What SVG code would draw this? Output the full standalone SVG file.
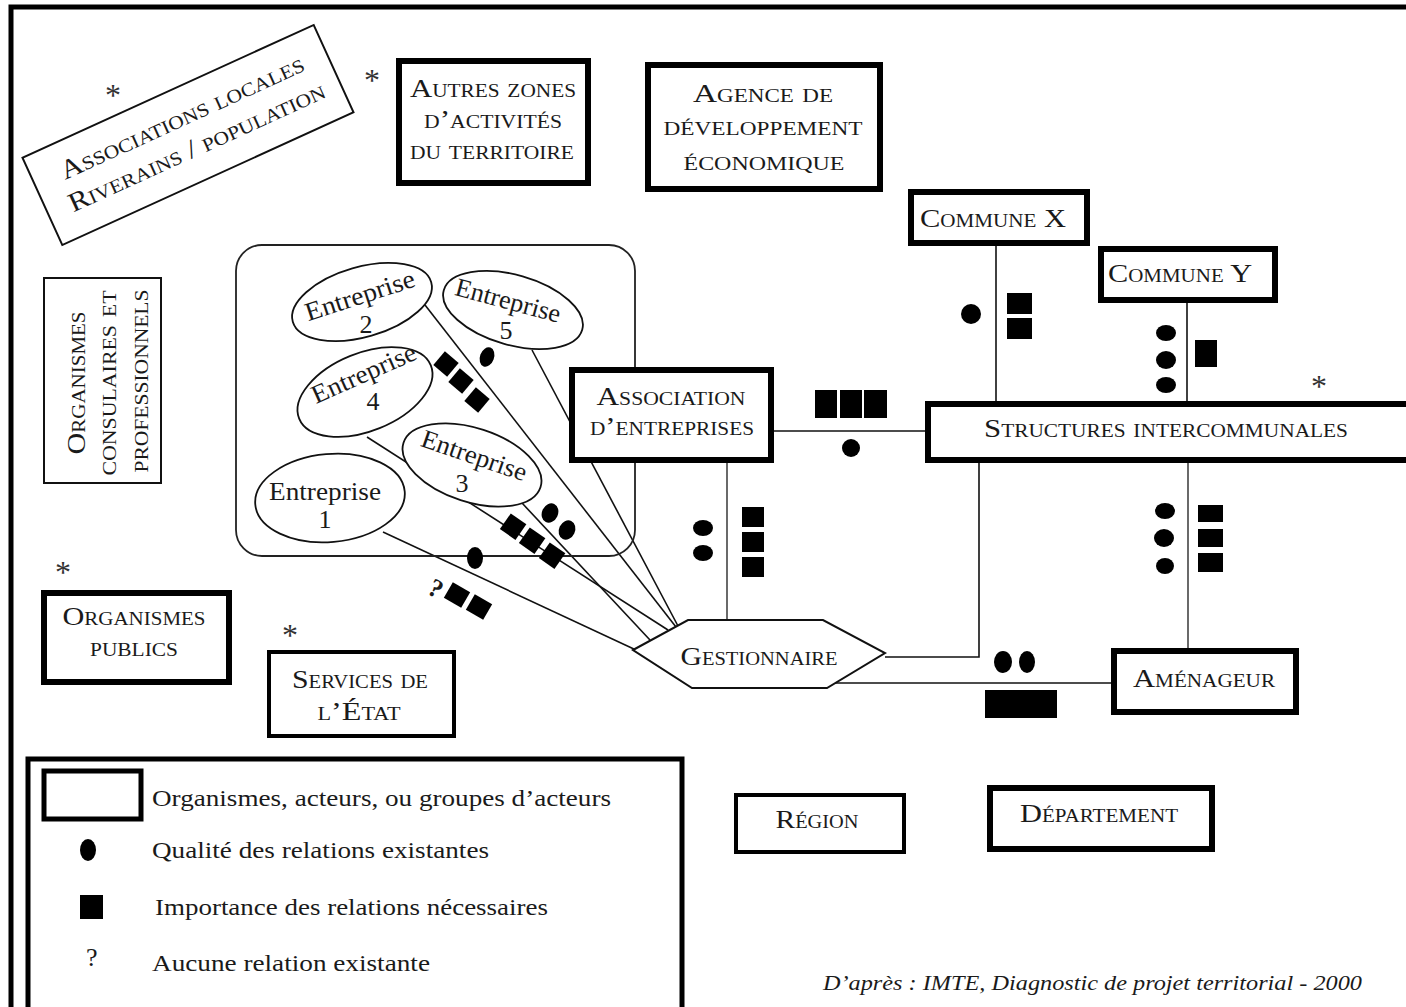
<svg xmlns="http://www.w3.org/2000/svg" width="1406" height="1007" viewBox="0 0 1406 1007">
<style>
.lbl{font-family:"Liberation Serif",serif;font-variant:small-caps;font-size:26px;fill:#1a1a1a;text-anchor:middle}
.ent{font-family:"Liberation Serif",serif;font-size:26px;fill:#1a1a1a;text-anchor:middle}
.leg{font-family:"Liberation Serif",serif;font-size:24px;fill:#1a1a1a}
.ast{font-family:"Liberation Serif",serif;font-size:32px;fill:#333;text-anchor:middle}
.thick{fill:#fff;stroke:#000;stroke-width:6}
.med{fill:#fff;stroke:#000;stroke-width:4}
.ell{fill:#fff;stroke:#111;stroke-width:1.8}
.ln{fill:none;stroke:#111;stroke-width:1.6}
.lg{fill:none;stroke:#444;stroke-width:1.6}
.sq{fill:#000}
.dot{fill:#000}
</style>
<rect x="0" y="0" width="1406" height="1007" fill="#fff"/>
<rect x="11" y="7" width="1430" height="1030" fill="none" stroke="#000" stroke-width="5"/>

<!-- connectors -->
<g id="connectors">
<line class="ln" x1="425" y1="305" x2="676" y2="627"/>
<line class="ln" x1="532" y1="350" x2="678" y2="626"/>
<line class="ln" x1="367" y1="437" x2="668" y2="630"/>
<line class="ln" x1="522" y1="503" x2="650" y2="640"/>
<line class="ln" x1="383" y1="532" x2="636" y2="650"/>
<line class="ln" x1="773" y1="431" x2="926" y2="431"/>
<line class="lg" x1="727" y1="462" x2="727" y2="620"/>
<line class="ln" x1="996" y1="245" x2="996" y2="402"/>
<line class="ln" x1="1187" y1="302" x2="1187" y2="402"/>
<line class="lg" x1="1188" y1="462" x2="1188" y2="650"/>
<polyline class="ln" points="979,462 979,657 885,657"/>
<line class="ln" x1="835" y1="683" x2="1113" y2="683"/>
</g>

<!-- entreprises container -->
<g id="zone-entreprises">
<rect x="236" y="245" width="399" height="311" rx="26" fill="none" stroke="#222" stroke-width="1.8"/>
</g>
<g id="ent2"><ellipse class="ell" cx="362" cy="302" rx="72" ry="35" transform="rotate(-16 362 302)"/>
<text class="ent" transform="translate(360,296) rotate(-18)" x="0" y="8" textLength="114" lengthAdjust="spacingAndGlyphs">Entreprise</text>
<text class="ent" x="366" y="333">2</text></g>
<g id="ent5"><ellipse class="ell" cx="513" cy="310" rx="72" ry="35" transform="rotate(16 513 310)"/>
<text class="ent" transform="translate(508,301) rotate(15)" x="0" y="8" textLength="108" lengthAdjust="spacingAndGlyphs">Entreprise</text>
<text class="ent" x="506" y="339">5</text></g>
<g id="ent4"><ellipse class="ell" cx="365" cy="392" rx="71" ry="39" transform="rotate(-22 365 392)"/>
<text class="ent" transform="translate(364,374) rotate(-24)" x="0" y="8" textLength="112" lengthAdjust="spacingAndGlyphs">Entreprise</text>
<text class="ent" x="373" y="410">4</text></g>
<g id="ent3"><ellipse class="ell" cx="472" cy="465" rx="72" ry="37" transform="rotate(18 472 465)"/>
<text class="ent" transform="translate(474,456) rotate(19)" x="0" y="8" textLength="110" lengthAdjust="spacingAndGlyphs">Entreprise</text>
<text class="ent" x="462" y="492">3</text></g>
<g id="ent1"><ellipse class="ell" cx="330" cy="498" rx="75" ry="44" transform="rotate(-5 330 498)"/>
<text class="ent" x="325" y="500" textLength="112" lengthAdjust="spacingAndGlyphs">Entreprise</text>
<text class="ent" x="325" y="528">1</text></g>

<!-- relation markers on enterprise links -->
<g id="markers-ent">
<rect class="sq" x="-9" y="-9" width="18" height="18" transform="translate(446,364) rotate(40)"/>
<rect class="sq" x="-9" y="-9" width="18" height="18" transform="translate(461,381) rotate(40)"/>
<rect class="sq" x="-9" y="-9" width="18" height="18" transform="translate(477,400) rotate(40)"/>
<ellipse class="dot" cx="487" cy="357" rx="7" ry="10" transform="rotate(20 487 357)"/>
<rect class="sq" x="-9" y="-9" width="19" height="19" transform="translate(513,526) rotate(35)"/>
<rect class="sq" x="-9" y="-9" width="19" height="19" transform="translate(532,540) rotate(35)"/>
<rect class="sq" x="-9" y="-9" width="19" height="19" transform="translate(552,555) rotate(35)"/>
<ellipse class="dot" cx="550" cy="513" rx="8" ry="10" transform="rotate(25 550 513)"/>
<ellipse class="dot" cx="567" cy="530" rx="8" ry="10" transform="rotate(25 567 530)"/>
<ellipse class="dot" cx="475" cy="558" rx="8" ry="11"/>
<text class="ent" style="font-weight:bold" transform="translate(436,588) rotate(28)" x="0" y="9">?</text>
<rect class="sq" x="-10" y="-9" width="20" height="18" transform="translate(457,595) rotate(30)"/>
<rect class="sq" x="-10" y="-9" width="20" height="18" transform="translate(479,607) rotate(30)"/>
</g>

<!-- other markers -->
<g id="markers">
<rect class="sq" x="815" y="390" width="22" height="28"/>
<rect class="sq" x="840" y="390" width="22" height="28"/>
<rect class="sq" x="864" y="390" width="23" height="28"/>
<circle class="dot" cx="851" cy="448" r="9"/>
<ellipse class="dot" cx="703" cy="528" rx="10" ry="8"/>
<ellipse class="dot" cx="703" cy="553" rx="10" ry="8"/>
<rect class="sq" x="742" y="507" width="22" height="20"/>
<rect class="sq" x="742" y="532" width="22" height="20"/>
<rect class="sq" x="742" y="557" width="22" height="20"/>
<circle class="dot" cx="971" cy="314" r="10"/>
<rect class="sq" x="1007" y="293" width="25" height="21"/>
<rect class="sq" x="1007" y="318" width="25" height="21"/>
<ellipse class="dot" cx="1166" cy="333" rx="10" ry="8"/>
<ellipse class="dot" cx="1166" cy="360" rx="10" ry="9"/>
<ellipse class="dot" cx="1166" cy="385" rx="10" ry="8"/>
<rect class="sq" x="1195" y="340" width="22" height="27"/>
<ellipse class="dot" cx="1165" cy="511" rx="10" ry="8"/>
<ellipse class="dot" cx="1164" cy="538" rx="10" ry="9"/>
<ellipse class="dot" cx="1165" cy="566" rx="9" ry="8"/>
<rect class="sq" x="1198" y="505" width="25" height="17"/>
<rect class="sq" x="1198" y="529" width="25" height="18"/>
<rect class="sq" x="1198" y="553" width="25" height="19"/>
<ellipse class="dot" cx="1003" cy="662" rx="9" ry="11"/>
<ellipse class="dot" cx="1027" cy="662" rx="8" ry="11"/>
<rect class="sq" x="985" y="690" width="72" height="28"/>
</g>

<!-- nodes -->
<g id="associations-locales" transform="translate(188,135) rotate(-24.5)">
<rect x="-160" y="-48" width="320" height="96" fill="#fff" stroke="#111" stroke-width="2"/>
<text class="lbl" x="2" y="-10" style="font-size:27px" textLength="265" lengthAdjust="spacingAndGlyphs">Associations locales</text>
<text class="lbl" x="3" y="23" style="font-size:27px" textLength="279" lengthAdjust="spacingAndGlyphs">Riverains / population</text>
</g>
<g id="autres-zones"><rect class="thick" x="399" y="61" width="189" height="122"/>
<text class="lbl" x="493" y="97" textLength="166" lengthAdjust="spacingAndGlyphs">Autres zones</text>
<text class="lbl" x="493" y="128" textLength="138" lengthAdjust="spacingAndGlyphs">d’activités</text>
<text class="lbl" x="492" y="159" textLength="164" lengthAdjust="spacingAndGlyphs">du territoire</text></g>
<g id="agence"><rect class="thick" x="648" y="65" width="232" height="124"/>
<text class="lbl" x="763" y="102" textLength="140" lengthAdjust="spacingAndGlyphs">Agence de</text>
<text class="lbl" x="763" y="135" textLength="199" lengthAdjust="spacingAndGlyphs">développement</text>
<text class="lbl" x="764" y="170" textLength="161" lengthAdjust="spacingAndGlyphs">économique</text></g>
<g id="commune-x"><rect class="thick" x="911" y="192" width="176" height="51"/>
<text class="lbl" x="993" y="227" textLength="146" lengthAdjust="spacingAndGlyphs">Commune X</text></g>
<g id="commune-y"><rect class="thick" x="1101" y="249" width="174" height="51"/>
<text class="lbl" x="1180" y="282" textLength="144" lengthAdjust="spacingAndGlyphs">Commune Y</text></g>
<g id="structures"><rect class="thick" x="928" y="404" width="500" height="56"/>
<text class="lbl" x="1166" y="437" textLength="364" lengthAdjust="spacingAndGlyphs">Structures intercommunales</text></g>
<g id="association-entreprises"><rect class="thick" x="572" y="370" width="199" height="90"/>
<text class="lbl" x="671" y="405" textLength="149" lengthAdjust="spacingAndGlyphs">Association</text>
<text class="lbl" x="672" y="435" textLength="164" lengthAdjust="spacingAndGlyphs">d’entreprises</text></g>
<g id="organismes-consulaires"><rect x="44" y="278" width="117" height="205" fill="#fff" stroke="#111" stroke-width="2"/>
<text class="lbl" transform="translate(85,383) rotate(-90)" x="0" y="0" textLength="143" lengthAdjust="spacingAndGlyphs">Organismes</text>
<text class="lbl" transform="translate(116,383) rotate(-90)" x="0" y="0" textLength="185" lengthAdjust="spacingAndGlyphs">consulaires et</text>
<text class="lbl" transform="translate(148,381) rotate(-90)" x="0" y="0" textLength="183" lengthAdjust="spacingAndGlyphs">professionnels</text></g>
<g id="gestionnaire"><polygon points="633,650 688,620 823,620 885,653 827,688 692,688" fill="#fff" stroke="#111" stroke-width="2"/>
<text class="lbl" x="759" y="665" textLength="157" lengthAdjust="spacingAndGlyphs">Gestionnaire</text></g>
<g id="amenageur"><rect class="thick" x="1114" y="651" width="182" height="61"/>
<text class="lbl" x="1204" y="687" textLength="142" lengthAdjust="spacingAndGlyphs">Aménageur</text></g>
<g id="organismes-publics"><rect class="thick" x="44" y="593" width="185" height="89"/>
<text class="lbl" x="134" y="625" textLength="143" lengthAdjust="spacingAndGlyphs">Organismes</text>
<text class="lbl" x="134" y="656" textLength="88" lengthAdjust="spacingAndGlyphs">publics</text></g>
<g id="services-etat"><rect class="med" x="269" y="652" width="185" height="84"/>
<text class="lbl" x="360" y="688" textLength="136" lengthAdjust="spacingAndGlyphs">Services de</text>
<text class="lbl" x="359" y="720" textLength="83" lengthAdjust="spacingAndGlyphs">l’État</text></g>
<g id="region"><rect class="med" x="736" y="795" width="168" height="57"/>
<text class="lbl" x="817" y="828" textLength="83" lengthAdjust="spacingAndGlyphs">Région</text></g>
<g id="departement"><rect class="thick" x="990" y="788" width="222" height="61"/>
<text class="lbl" x="1099" y="822" textLength="158" lengthAdjust="spacingAndGlyphs">Département</text></g>

<!-- asterisks -->
<g id="asterisks">
<text class="ast" x="113" y="106">*</text>
<text class="ast" x="372" y="91">*</text>
<text class="ast" x="1319" y="397">*</text>
<text class="ast" x="63" y="583">*</text>
<text class="ast" x="290" y="646">*</text>
</g>

<!-- legend -->
<g id="legend">
<rect x="28" y="759" width="654" height="270" fill="#fff" stroke="#000" stroke-width="5"/>
<rect x="44" y="771" width="97" height="48" fill="#fff" stroke="#000" stroke-width="5"/>
<text class="leg" x="152" y="806" textLength="459" lengthAdjust="spacingAndGlyphs">Organismes, acteurs, ou groupes d’acteurs</text>
<ellipse class="dot" cx="88" cy="850" rx="8" ry="11"/>
<text class="leg" x="152" y="858" textLength="337" lengthAdjust="spacingAndGlyphs">Qualité des relations existantes</text>
<rect class="sq" x="80" y="895" width="23" height="24"/>
<text class="leg" x="155" y="915" textLength="393" lengthAdjust="spacingAndGlyphs">Importance des relations nécessaires</text>
<text class="leg" x="86" y="966" style="font-size:26px">?</text>
<text class="leg" x="152" y="971" textLength="278" lengthAdjust="spacingAndGlyphs">Aucune relation existante</text>
</g>
<text id="source" x="823" y="990" style="font-family:'Liberation Serif',serif;font-style:italic;font-size:21px;fill:#1a1a1a" textLength="539" lengthAdjust="spacingAndGlyphs">D’après : IMTE, Diagnostic de projet territorial - 2000</text>
</svg>
